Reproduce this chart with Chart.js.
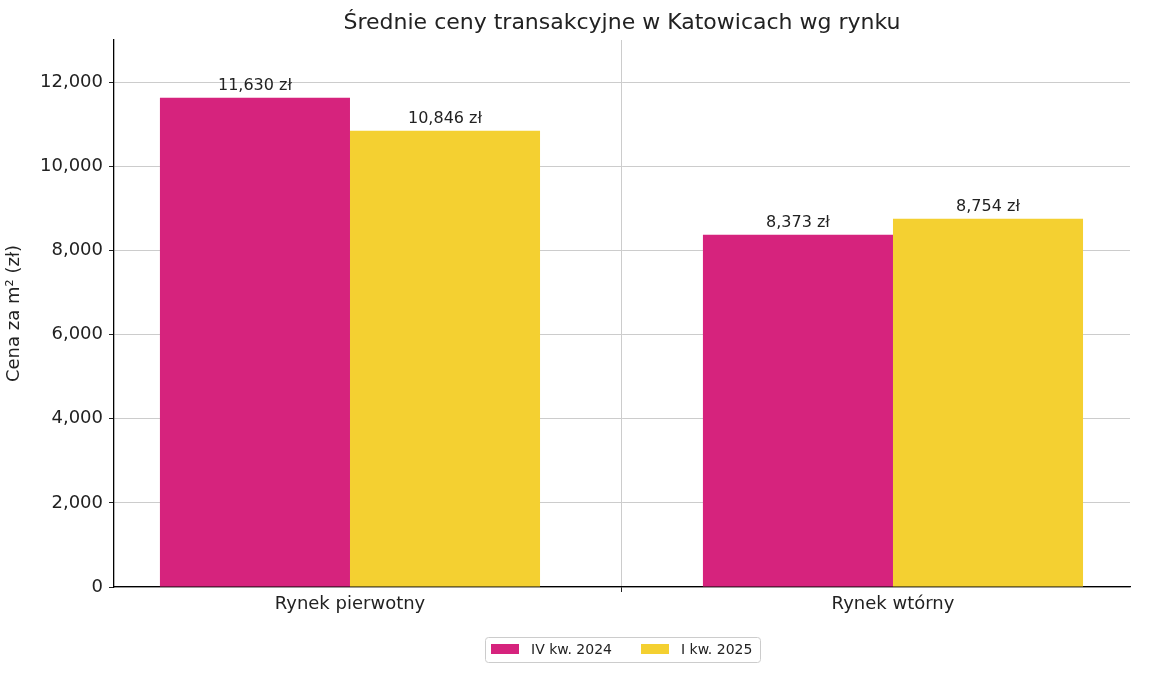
<!DOCTYPE html>
<html><head><meta charset="utf-8">
<script src="https://cdn.jsdelivr.net/npm/chart.js@4"></script>
<style>html,body{margin:0;padding:0;background:#fff}#w{width:1156px;height:676px}</style>
</head><body><div id="w"><canvas id="c"></canvas></div>
<script>
const categories = ["Rynek pierwotny", "Rynek wtórny"];
const seriesNames = ["IV kw. 2024", "I kw. 2025"];
const q4_2024 = [11630, 8373];
const q1_2025 = [10846, 8754];
const colors = ["#D6237D", "#F4D031"];
const F = "DejaVu Sans";

const fmt = v => v.toLocaleString("en-US") + " zł";

const overlay = {
  id: "overlay",
  afterDraw(chart) {
    const ctx = chart.ctx;
    ctx.save();
    // title
    ctx.fillStyle = "#222"; ctx.font = "22px " + F;
    ctx.textAlign = "center"; ctx.textBaseline = "middle";
    ctx.fillText("Średnie ceny transakcyjne w Katowicach wg rynku", 622, 23);
    // value labels
    ctx.font = "16px " + F; ctx.textBaseline = "bottom";
    chart.data.datasets.forEach((ds, i) => {
      chart.getDatasetMeta(i).data.forEach((bar, j) => {
        ctx.fillText(fmt(ds.data[j].y), bar.x, bar.y - 4);
      });
    });
    // legend
    const bx = 485, by = 637, bw = 275, bh = 25;
    ctx.strokeStyle = "#ccc"; ctx.lineWidth = 1;
    ctx.beginPath(); ctx.roundRect(bx + .5, by + .5, bw, bh, 3); ctx.stroke();
    ctx.font = "14px " + F; ctx.textAlign = "left"; ctx.textBaseline = "middle";
    const xs = [491, 641];
    seriesNames.forEach((n, i) => {
      ctx.fillStyle = colors[i]; ctx.fillRect(xs[i], by + 7, 28, 10);
      ctx.fillStyle = "#222"; ctx.fillText(n, xs[i] + 40, by + 13);
    });
    ctx.restore();
  }
};

new Chart(document.getElementById("c"), {
  type: "bar",
  data: {
    datasets: [
      { label: seriesNames[0], data: q4_2024.map((y, i) => ({ x: i, y })), backgroundColor: colors[0] },
      { label: seriesNames[1], data: q1_2025.map((y, i) => ({ x: i, y })), backgroundColor: colors[1] }
    ]
  },
  options: {
    responsive: true, maintainAspectRatio: false, animation: false,
    layout: { padding: { top: 40, right: 26, left: 0, bottom: 0 } },
    categoryPercentage: 0.7, barPercentage: 1,
    plugins: { legend: { display: false }, title: { display: false }, tooltip: { enabled: false } },
    scales: {
      x: {
        type: "linear", min: -0.4346, max: 1.4365, offset: false,
        afterBuildTicks: s => { s.ticks = categories.map((_, i) => ({ value: i })); },
        afterFit: s => { s.height = 89; },
        ticks: { callback: v => categories[v], font: { family: F, size: 18 }, color: "#222", padding: 2 },
        grid: { color: "#ccc", tickLength: 5, tickColor: "#222", z: 0 },
        border: { color: "#000", width: 1.3 }
      },
      y: {
        min: 0, max: 13000,
        afterBuildTicks: s => { s.ticks = [0,2000,4000,6000,8000,10000,12000].map(v => ({ value: v })); },
        afterFit: s => { s.width = 114; },
        ticks: { font: { family: F, size: 18 }, color: "#222", padding: 6 },
        title: { display: true, text: "Cena za m² (zł)", font: { family: F, size: 18 }, color: "#222" },
        grid: { color: "#ccc", tickLength: 5, tickColor: "#222" },
        border: { color: "#000", width: 1.3 }
      }
    },
    elements: { bar: { borderWidth: 0 } }
  },
  plugins: [overlay, {
    id: "dash",
    beforeDraw(chart) {
      ["x", "y"].forEach(k => { chart.scales[k].options.grid.tickBorderDash = []; chart.scales[k].options.border.dash = []; });
    }
  }]
});
Chart.defaults.font.family = F;
</script>
</body></html>
